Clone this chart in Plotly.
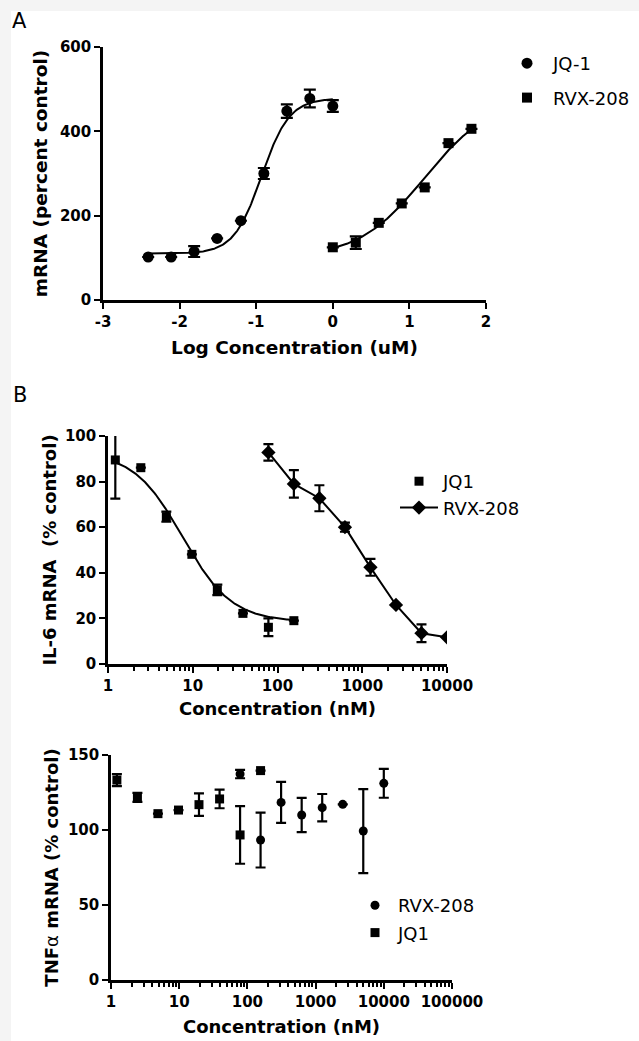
import numpy as np
import plotly.graph_objects as go

W, H = 639, 1041
FONT = "DejaVu Sans, Verdana, sans-serif"

# ---------------- Panel A data (log concentration, uM) ----------------
a_jq1_logc = [-2.41, -2.11, -1.81, -1.51, -1.20, -0.90, -0.60, -0.30, 0.0]
a_jq1_val = [102, 102, 115, 146, 188, 300, 448, 478, 460]
a_jq1_err = [None, None, 13, None, None, 13, 16, 21, 14]

a_rvx_logc = [0.0, 0.30, 0.60, 0.90, 1.20, 1.51, 1.81]
a_rvx_val = [125, 136, 183, 229, 267, 372, 406]
a_rvx_err = [None, 15, None, None, None, None, None]

# 4-parameter logistic fit parameters (bottom, top, logEC50, hill)
a_jq1_fit = (110, 478, -0.93, 2.4)
a_rvx_fit = (100, 480, 1.20, 1.0)

a_xticks = [-3, -2, -1, 0, 1, 2]
a_yticks = [0, 200, 400, 600]

# ---------------- Panel B data (concentration, nM) ----------------
b_conc_jq1 = [1.22, 2.44, 4.88, 9.77, 19.5, 39.1, 78.1, 156]
b_conc_rvx = [78.1, 156, 312, 625, 1250, 2500, 5000, 10000]

il6_jq1 = [89.5, 86.1, 64.6, 48.1, 32.5, 22.2, 16.1, 19.0]
il6_jq1_err = [17, None, 2.2, None, 2.3, None, 3.9, None]
il6_rvx = [92.8, 79.0, 72.7, 60.0, 42.4, 25.9, 13.5, 11.7]
il6_rvx_err = [3.6, 6.0, 5.7, 2.0, 3.7, None, 3.9, None]
il6_jq1_fit = (18.5, 93, 0.88, 1.5)  # bottom, top, logIC50, hill
il6_xticks = ["1", "10", "100", "1000", "10000"]

tnf_jq1 = [133.3, 121.8, 110.9, 113.3, 116.9, 120.7, 96.7, 139.6]
tnf_jq1_err = [4, 3, None, None, 7.5, 6.2, 19.2, None]
tnf_rvx = [137.3, 93.3, 118.4, 110.0, 114.9, 117.1, 99.3, 131.1]
tnf_rvx_err = [2.8, 18.3, 13.7, 11.4, 9.1, None, 28, 9.6]
tnf_xticks = ["1", "10", "100", "1000", "10000", "100000"]


def px(x):
    return x / W


def py(y):
    return 1 - y / H


def logistic_up(x, p):
    b, t, ec, h = p
    return b + (t - b) / (1 + 10 ** ((ec - x) * h))


def logistic_down(logx, p):
    b, t, ic, h = p
    return b + (t - b) / (1 + 10 ** ((logx - ic) * h))


def err(arr, w):
    return dict(type="data", array=arr, visible=True, color="black", thickness=2.2, width=w)


fig = go.Figure()

# ---- Panel A ----
xa = np.linspace(min(a_jq1_logc), max(a_jq1_logc), 200)
fig.add_trace(go.Scatter(x=xa, y=logistic_up(xa, a_jq1_fit), mode="lines",
                         line=dict(color="black", width=2), showlegend=False,
                         xaxis="x", yaxis="y", hoverinfo="skip"))
xr = np.linspace(min(a_rvx_logc), max(a_rvx_logc), 200)
fig.add_trace(go.Scatter(x=xr, y=logistic_up(xr, a_rvx_fit), mode="lines",
                         line=dict(color="black", width=2), showlegend=False,
                         xaxis="x", yaxis="y", hoverinfo="skip"))
fig.add_trace(go.Scatter(x=a_jq1_logc, y=a_jq1_val, mode="markers", name="JQ-1",
                         marker=dict(symbol="circle", size=11, color="black"),
                         error_y=err(a_jq1_err, 6), xaxis="x", yaxis="y",
                         legend="legend", legendgroup="a1"))
fig.add_trace(go.Scatter(x=a_rvx_logc, y=a_rvx_val, mode="markers", name="RVX-208",
                         marker=dict(symbol="square", size=10, color="black"),
                         error_y=err(a_rvx_err, 6), xaxis="x", yaxis="y",
                         legend="legend", legendgroup="a2"))

# ---- Panel B top (IL-6) ----
lc = np.linspace(np.log10(min(b_conc_jq1)), np.log10(max(b_conc_jq1)), 200)
fig.add_trace(go.Scatter(x=10 ** lc, y=logistic_down(lc, il6_jq1_fit), mode="lines",
                         line=dict(color="black", width=2), showlegend=False,
                         xaxis="x2", yaxis="y2", hoverinfo="skip"))
fig.add_trace(go.Scatter(x=b_conc_jq1, y=il6_jq1, mode="markers", name="JQ1",
                         marker=dict(symbol="square", size=9, color="black"),
                         error_y=err(il6_jq1_err, 5), xaxis="x2", yaxis="y2",
                         legend="legend2", legendgroup="b1"))
fig.add_trace(go.Scatter(x=b_conc_rvx, y=il6_rvx, mode="lines+markers", name="RVX-208",
                         marker=dict(symbol="diamond", size=11, color="black"),
                         line=dict(color="black", width=2),
                         error_y=err(il6_rvx_err, 5), xaxis="x2", yaxis="y2",
                         legend="legend2", legendgroup="b2"))

# ---- Panel B bottom (TNFa) ----
fig.add_trace(go.Scatter(x=b_conc_rvx, y=tnf_rvx, mode="markers", name="RVX-208",
                         marker=dict(symbol="circle", size=9, color="black"),
                         error_y=err(tnf_rvx_err, 5), xaxis="x3", yaxis="y3",
                         legend="legend3", legendgroup="c1"))
fig.add_trace(go.Scatter(x=b_conc_jq1, y=tnf_jq1, mode="markers", name="JQ1",
                         marker=dict(symbol="square", size=9, color="black"),
                         error_y=err(tnf_jq1_err, 5), xaxis="x3", yaxis="y3",
                         legend="legend3", legendgroup="c2"))

tickA = dict(family=FONT, size=15, color="black", weight="bold")
titleA = dict(family=FONT, size=18.5, color="black", weight="bold")
tickB = dict(family=FONT, size=15, color="black", weight="bold")
titleB = dict(family=FONT, size=18, color="black", weight="bold")
legfont = dict(family=FONT, size=18, color="black")

common = dict(showline=True, linecolor="black", linewidth=2.5, ticks="outside",
              ticklen=6, tickwidth=2, tickcolor="black", showgrid=False,
              zeroline=False, automargin=False)

logminor = dict(ticks="outside", ticklen=4, tickwidth=1.5, tickcolor="black",
                dtick="D1", showgrid=False)

fig.update_layout(
    width=W, height=H,
    margin=dict(l=0, r=0, t=0, b=0),
    paper_bgcolor="#f4f4f4",
    plot_bgcolor="rgba(0,0,0,0)",
    font=dict(family=FONT, color="black"),
    xaxis=dict(domain=[px(103), px(486)], range=[-3, 2], tickmode="array",
               tickvals=a_xticks, ticktext=[str(v) for v in a_xticks], anchor="y",
               tickfont=tickA,
               title=dict(text="Log Concentration (uM)", font=titleA, standoff=12), **common),
    yaxis=dict(domain=[py(300), py(47)], range=[0, 600], tickmode="array",
               tickvals=a_yticks, ticktext=[str(v) for v in a_yticks], anchor="x",
               tickfont=tickA,
               title=dict(text="mRNA (percent control)", font=titleA, standoff=8), **common),
    xaxis2=dict(domain=[px(108), px(447)], type="log", range=[0, 4], tickmode="array",
                tickvals=[float(t) for t in il6_xticks], ticktext=il6_xticks,
                anchor="y2", minor=logminor, tickfont=tickB,
                title=dict(text="Concentration (nM)", font=titleB, standoff=9), **common),
    yaxis2=dict(domain=[py(664), py(436)], range=[0, 100], dtick=20, anchor="x2",
                tickfont=tickB,
                title=dict(text="IL-6 mRNA  (% control)", font=titleB, standoff=4), **common),
    xaxis3=dict(domain=[px(111), px(452)], type="log", range=[0, 5], tickmode="array",
                tickvals=[float(t) for t in tnf_xticks], ticktext=tnf_xticks,
                anchor="y3", minor=logminor, tickfont=tickB,
                title=dict(text="Concentration (nM)", font=titleB, standoff=11), **common),
    yaxis3=dict(domain=[py(980), py(755)], range=[0, 150], dtick=50, anchor="x3",
                tickfont=tickB,
                title=dict(text="TNF<span style='font-weight:normal'>α</span> mRNA (% control)",
                           font=titleB, standoff=5), **common),
    legend=dict(x=px(501), y=py(45), xanchor="left", yanchor="top", font=legfont,
                bgcolor="rgba(0,0,0,0)", tracegroupgap=8, itemwidth=42),
    legend2=dict(x=px(395), y=py(463), xanchor="left", yanchor="top", font=legfont,
                 bgcolor="rgba(0,0,0,0)", tracegroupgap=0, itemwidth=38),
    legend3=dict(x=px(352), y=py(887), xanchor="left", yanchor="top", font=legfont,
                 bgcolor="rgba(0,0,0,0)", tracegroupgap=1, itemwidth=36),
    annotations=[
        dict(text="A", x=px(10), y=py(21), xref="paper", yref="paper", showarrow=False,
             xanchor="left", yanchor="middle", font=dict(family=FONT, size=21, color="black")),
        dict(text="B", x=px(11), y=py(395), xref="paper", yref="paper", showarrow=False,
             xanchor="left", yanchor="middle", font=dict(family=FONT, size=21, color="black")),
    ],
    shapes=[
        dict(type="rect", xref="paper", yref="paper", x0=px(11), x1=1, y0=0, y1=py(11),
             fillcolor="white", line=dict(width=0), layer="below"),
    ],
)

fig.write_html("out.html", config={"displayModeBar": False},
               post_script="document.body.style.margin='0';")
